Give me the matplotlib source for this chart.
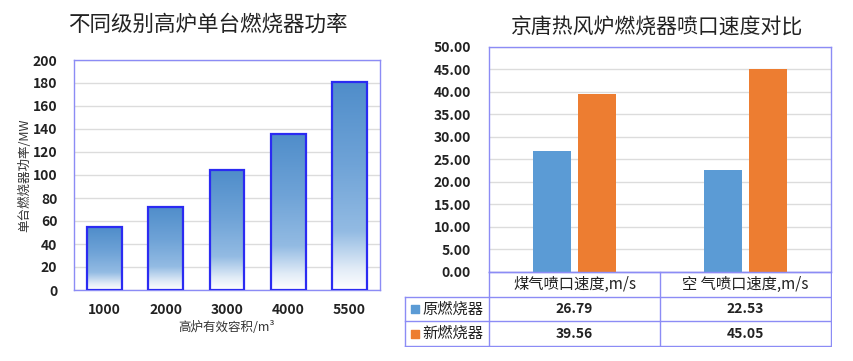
import numpy as np
import matplotlib.pyplot as plt
from matplotlib.colors import LinearSegmentedColormap

plt.rcParams['font.family'] = ['Noto Sans CJK SC', 'DejaVu Sans']

# ---- left chart data ----
volumes = ['1000', '2000', '3000', '4000', '5500']
power = [54.5, 72.5, 104, 136, 181]

# ---- right chart data ----
nozzles = ['煤气喷口速度,m/s', '空 气喷口速度,m/s']
series_names = ['原燃烧器', '新燃烧器']
speed_old = [26.79, 22.53]
speed_new = [39.56, 45.05]

W, H = 854, 361
fig = plt.figure(figsize=(W / 100, H / 100), dpi=100)
fig.patch.set_facecolor('white')


def px_axes(x0, y0, x1, y1):
    """axes from pixel box (top-left origin)"""
    return fig.add_axes([x0 / W, 1 - y1 / H, (x1 - x0) / W, (y1 - y0) / H])


frame_col = '#8C8CF5'
grid_col = '#DCDCDC'

# ================= left: gradient bars =================
ax = px_axes(74, 60, 380, 290)
ax.set_yticks(range(0, 201, 20))
ax.yaxis.grid(True, color=grid_col, lw=1)
ax.set_axisbelow(True)
for s in ax.spines.values():
    s.set_color(frame_col)
    s.set_linewidth(1)

cmap = LinearSegmentedColormap.from_list(
    'fade', [(0.0, '#FFFFFF'), (0.1, '#E2ECF7'), (0.28, '#93BBE3'),
             (0.6, '#6FA3D7'), (1.0, '#4F8DCA')])
grad = np.linspace(0, 1, 256).reshape(-1, 1)
bars = ax.bar(range(len(volumes)), power, width=0.57, color='none',
              edgecolor='#2B2BF2', linewidth=1.6, zorder=3)
for b in bars:
    x0, w, h = b.get_x(), b.get_width(), b.get_height()
    im = ax.imshow(grad, cmap=cmap, origin='lower', aspect='auto',
                   extent=(x0, x0 + w, 0, h), zorder=2)
    im.set_clip_path(b)
ax.set_xlim(-0.5, len(volumes) - 0.5)
ax.set_ylim(0, 200)

ax.set_xticks(range(len(volumes)))
ax.set_xticklabels(volumes)
ax.tick_params(length=0, labelsize=10, labelcolor='#222222')
ax.tick_params(axis='x', pad=9)
ax.tick_params(axis='y', pad=12)
for t in ax.get_xticklabels() + ax.get_yticklabels():
    t.set_fontweight('bold')
ax.set_xlabel('高炉有效容积/m³', fontsize=9, color='#333333', labelpad=3)
ax.set_ylabel('单台燃烧器功率/MW', fontsize=9, color='#333333', labelpad=1)
fig.text(208 / W, 1 - 25 / H, '不同级别高炉单台燃烧器功率', ha='center',
         va='center', fontsize=15.5, color='#222222')

# ================= right: grouped bars + data table =================
ax2 = px_axes(489, 46.7, 831, 271.7)
x = np.arange(len(nozzles))
ax2.bar(x - 0.13, speed_old, width=0.22, color='#5B9BD5', zorder=3)
ax2.bar(x + 0.13, speed_new, width=0.22, color='#ED7D31', zorder=3)
ax2.set_xlim(-0.5, len(nozzles) - 0.5)
ax2.set_ylim(0, 50)
ax2.set_yticks(np.arange(0, 50.1, 5))
ax2.set_yticklabels([f'{v:.2f}' for v in np.arange(0, 50.1, 5)])
ax2.set_xticks([])
ax2.yaxis.grid(True, color=grid_col, lw=1)
ax2.set_axisbelow(True)
ax2.tick_params(length=0, labelsize=10, labelcolor='#222222', pad=13)
for t in ax2.get_yticklabels():
    t.set_fontweight('bold')
for s in ax2.spines.values():
    s.set_color(frame_col)
    s.set_linewidth(1)
fig.text(657 / W, 1 - 28 / H, '京唐热风炉燃烧器喷口速度对比', ha='center',
         va='center', fontsize=15, color='#222222')

# table drawn in pixel coordinates
tb = px_axes(404, 271, 832, 347)
tb.set_xlim(404, 832)
tb.set_ylim(347, 271)
tb.axis('off')
xl, xc0, xc1, xr = 405, 489, 660, 831
ys = [271.7, 297, 321, 346]
kw = dict(color=frame_col, lw=1)
tb.plot([xc0, xr], [ys[0], ys[0]], **kw)
for yy in ys[1:]:
    tb.plot([xl, xr], [yy, yy], **kw)
tb.plot([xl, xl], [ys[1], ys[3]], **kw)
for xx in (xc0, xc1, xr):
    tb.plot([xx, xx], [ys[0], ys[3]], **kw)

cols = [(xc0 + xc1) / 2, (xc1 + xr) / 2]
for cx, name in zip(cols, nozzles):
    tb.text(cx, (ys[0] + ys[1]) / 2, name, ha='center', va='center',
            fontsize=11, color='#222222')
rows = [speed_old, speed_new]
colors = ['#5B9BD5', '#ED7D31']
for i, (nm, vals, c) in enumerate(zip(series_names, rows, colors)):
    cy = (ys[i + 1] + ys[i + 2]) / 2
    tb.scatter([415], [cy], marker='s', s=30, color=c)
    tb.text(422, cy, nm, ha='left', va='center', fontsize=11,
            color='#222222', fontweight='medium')
    for cx, v in zip(cols, vals):
        tb.text(cx, cy, f'{v:.2f}', ha='center', va='center', fontsize=10,
                fontweight='bold', color='#222222')

fig.savefig('out.png', dpi=100, facecolor='white')
